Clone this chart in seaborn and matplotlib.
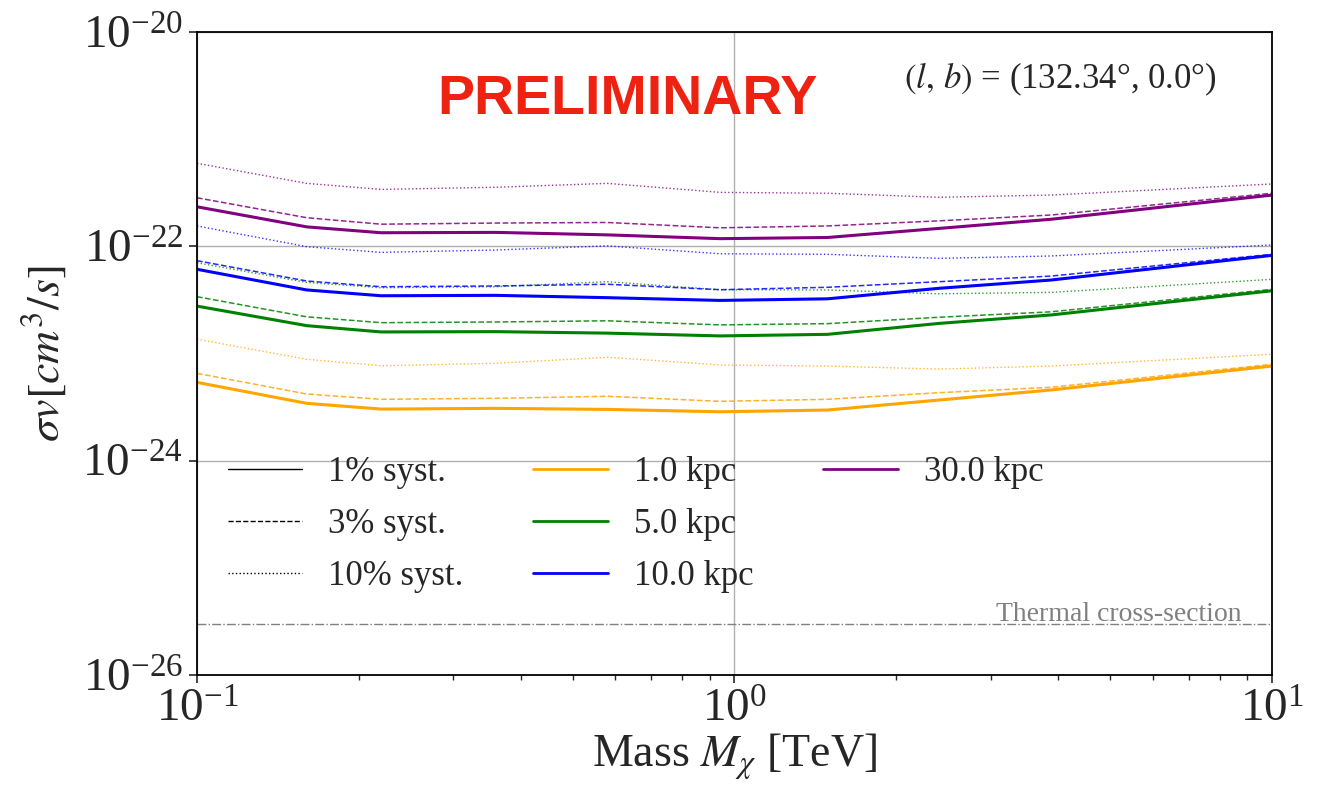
"""DM annihilation limits vs mass for several distances / systematics"""

import numpy as np, pandas as pd, matplotlib.pyplot as plt
import seaborn as sns
from matplotlib.lines import Line2D
from matplotlib.ticker import NullLocator

sns.set_theme(style="ticks")
plt.rcParams['font.family'] = ['Liberation Serif', 'DejaVu Serif']
plt.rcParams['mathtext.fontset'] = 'stix'

# Data
mass = [0.1, 0.16, 0.22, 0.36, 0.58, 0.94, 1.49, 2.4, 3.88, 10.0]

orange_1  = [5.38e-24, 3.43e-24, 3.03e-24, 3.08e-24, 3.01e-24, 2.86e-24, 2.97e-24, 3.68e-24, 4.57e-24, 7.64e-24]
orange_3  = [6.53e-24, 4.19e-24, 3.74e-24, 3.82e-24, 3.99e-24, 3.58e-24, 3.74e-24, 4.31e-24, 4.84e-24, 7.93e-24]
orange_10 = [1.36e-23, 8.83e-24, 7.69e-24, 8.11e-24, 9.23e-24, 7.82e-24, 7.64e-24, 7.16e-24, 7.64e-24, 9.84e-24]

green_1  = [2.77e-23, 1.82e-23, 1.59e-23, 1.60e-23, 1.55e-23, 1.46e-23, 1.51e-23, 1.91e-23, 2.29e-23, 3.85e-23]
green_3  = [3.39e-23, 2.20e-23, 1.94e-23, 1.97e-23, 2.02e-23, 1.85e-23, 1.90e-23, 2.18e-23, 2.45e-23, 3.97e-23]
green_10 = [7.03e-23, 4.61e-23, 4.11e-23, 4.20e-23, 4.68e-23, 3.94e-23, 3.92e-23, 3.61e-23, 3.72e-23, 4.92e-23]

blue_1  = [6.11e-23, 3.92e-23, 3.46e-23, 3.49e-23, 3.32e-23, 3.13e-23, 3.24e-23, 4.06e-23, 4.85e-23, 8.24e-23]
blue_3  = [7.35e-23, 4.75e-23, 4.20e-23, 4.27e-23, 4.43e-23, 3.94e-23, 4.15e-23, 4.68e-23, 5.28e-23, 8.43e-23]
blue_10 = [1.55e-22, 9.93e-23, 8.79e-23, 9.25e-23, 1.01e-22, 8.53e-23, 8.43e-23, 7.73e-23, 8.13e-23, 1.03e-22]

purple_1  = [2.34e-22, 1.52e-22, 1.34e-22, 1.35e-22, 1.28e-22, 1.18e-22, 1.21e-22, 1.47e-22, 1.79e-22, 3.01e-22]
purple_3  = [2.84e-22, 1.85e-22, 1.61e-22, 1.65e-22, 1.67e-22, 1.49e-22, 1.55e-22, 1.73e-22, 1.96e-22, 3.13e-22]
purple_10 = [5.96e-22, 3.87e-22, 3.40e-22, 3.56e-22, 3.87e-22, 3.19e-22, 3.13e-22, 2.87e-22, 3.01e-22, 3.82e-22]

distances = ['1.0 kpc', '5.0 kpc', '10.0 kpc', '30.0 kpc']
colors = ['orange', 'green', 'blue', 'purple']
syst_labels = ['1% syst.', '3% syst.', '10% syst.']
thermal_xs = 3e-26

curves = {
    '1.0 kpc': [orange_1, orange_3, orange_10],
    '5.0 kpc': [green_1, green_3, green_10],
    '10.0 kpc': [blue_1, blue_3, blue_10],
    '30.0 kpc': [purple_1, purple_3, purple_10],
}
styles = ['-', '--', ':']
widths = [2.2, 1.1, 1.0]
alphas = [1.0, 0.85, 0.8]

rows = []
for d in distances:
    for s, vals in zip(syst_labels, curves[d]):
        for m, v in zip(mass, vals):
            rows.append((d, s, m, v))
df = pd.DataFrame(rows, columns=['dist', 'syst', 'mass', 'sv'])

fig = plt.figure(figsize=(13.17, 7.85), dpi=100)
ax = fig.add_axes([0.1496, 0.1401, 0.8162, 0.8191])

for d, c in zip(distances, colors):
    for s, ls, lw, a in zip(syst_labels, styles, widths, alphas):
        sub = df[(df.dist == d) & (df.syst == s)]
        sns.lineplot(data=sub, x='mass', y='sv', color=c, linestyle=ls, lw=lw,
                     alpha=a, ax=ax, legend=False)

ax.axhline(thermal_xs, color='gray', ls='-.', lw=1.0)
ax.text(0.972, 0.094, 'Thermal cross-section', color='gray', fontsize=20,
        ha='right', va='center', transform=ax.transAxes)

ax.set_xscale('log')
ax.set_yscale('log')
ax.set_xlim(0.1, 10)
ax.set_ylim(1e-26, 1e-20)
ax.set_yticks([1e-26, 1e-24, 1e-22, 1e-20])
ax.yaxis.set_minor_locator(NullLocator())
ax.grid(True, which='major', color='#b0b0b0', lw=1.0)
ax.tick_params(axis='both', which='major', labelsize=34, length=6, width=1.2, pad=4)
ax.tick_params(axis='both', which='minor', length=3.5, width=1.0)
for sp in ax.spines.values():
    sp.set_linewidth(1.3)
    sp.set_color('black')

ax.set_xlabel(r'Mass $M_\chi$ [TeV]', fontsize=33, labelpad=0)
ax.set_ylabel(r'$\sigma v [cm^3/s]$', fontsize=33, labelpad=10)

ax.text(0.40, 0.895, 'PRELIMINARY', color='#ee2211', fontsize=40,
        fontweight='bold', family='Liberation Sans', ha='center', va='center',
        transform=ax.transAxes)
ax.text(0.949, 0.926, r'$(l,\,b)$ = (132.34°, 0.0°)', fontsize=25,
        ha='right', va='center', transform=ax.transAxes)

blank = Line2D([], [], color='none')
handles = [Line2D([], [], color='black', ls=ls, lw=1.0) for ls in styles]
handles += [Line2D([], [], color=c, lw=2.0) for c in colors]
handles += [blank, blank]
labels = syst_labels + distances + ['', '']
ax.legend(handles, labels, ncol=3, loc='upper left', bbox_to_anchor=(0.006, 0.378),
          frameon=False, fontsize=25, handlelength=2.15, handletextpad=0.75,
          columnspacing=2.0, labelspacing=0.55, borderaxespad=0.3)

plt.savefig('out.png', dpi=100)
plt.close()
